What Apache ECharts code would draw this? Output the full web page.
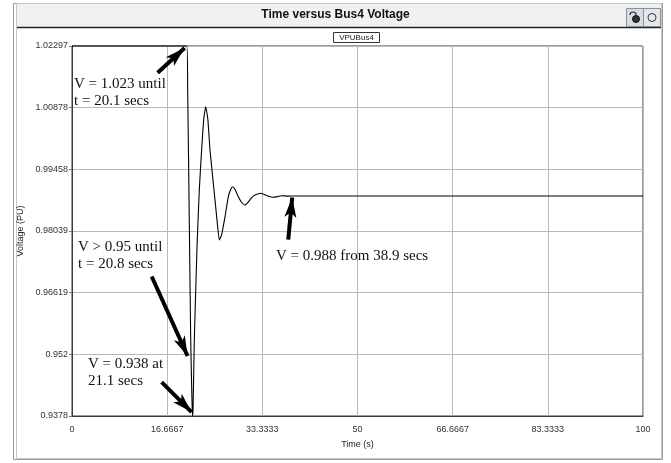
<!DOCTYPE html>
<html>
<head>
<meta charset="utf-8">
<script src="https://cdn.jsdelivr.net/npm/echarts@6/dist/echarts.min.js"></script>
<style>
html,body{margin:0;padding:0;background:#fff;}
#chart{width:671px;height:463px;}
</style>
</head>
<body>
<div id="chart"></div>
<script>
// ---- data ----
const chartTitle = 'Time versus Bus4 Voltage';
const seriesName = 'VPUBus4';
const timeS = [0, 20.1, 20.26, 20.54, 20.79, 21.0, 21.1, 21.2, 21.42, 21.9, 22.3, 22.7, 23.1, 23.42, 23.8, 24.17, 24.87, 25.45, 25.8, 26.2, 26.8, 27.38, 27.8, 28.14, 28.6, 29.13, 29.7, 30.3, 30.9, 31.5, 32.05, 33.1, 34.2, 35.26, 36.0, 36.72, 37.8, 38.9, 100];
const voltPU = [1.02297, 1.02297, 1.0128, 0.9829, 0.9553, 0.9420, 0.9378, 0.9395, 0.9553, 0.9770, 0.9900, 0.9990, 1.0065, 1.0090, 1.0060, 0.9990, 0.9898, 0.9822, 0.9783, 0.9795, 0.9837, 0.9883, 0.9900, 0.99058, 0.9898, 0.98828, 0.9870, 0.98637, 0.9871, 0.9881, 0.98867, 0.98906, 0.9885, 0.98814, 0.9883, 0.98851, 0.98842, 0.98844, 0.98844];
const xTickLabels = ['0', '16.6667', '33.3333', '50', '66.6667', '83.3333', '100'];
const yTickLabels = ['0.9378', '0.952', '0.96619', '0.98039', '0.99458', '1.00878', '1.02297'];
const xMin = 0, xMax = 100;
const yMin = 0.9378, yMax = 1.02297;
// annotation arrows: [startT, startV, endT, endV]
const arrowStarts = [[15.0, 1.0168], [13.96, 0.9699], [15.7, 0.9456], [37.87, 0.9784]];
const arrowEnds   = [[19.72, 1.0225], [20.24, 0.9516], [20.94, 0.9387], [38.57, 0.9881]];
const noteTexts = ['V = 1.023 until\nt = 20.1 secs', 'V > 0.95 until\nt = 20.8 secs', 'V = 0.938 at\n21.1 secs', 'V = 0.988 from 38.9 secs'];

const xInterval = (xMax - xMin) / 6;
const yInterval = (yMax - yMin) / 6;

const chart = echarts.init(document.getElementById('chart'), null, {renderer: 'canvas'});
const sans = '"Liberation Sans", Arial, sans-serif';
const serif = '"Liberation Serif", "Times New Roman", serif';

const lineData = timeS.map((t, i) => [t, voltPU[i]]);
const arrowData = arrowStarts.map((s, i) => [{coord: s}, {coord: arrowEnds[i]}]);

const option = {
  animation: false,
  backgroundColor: '#fff',
  grid: {left: 72, right: 28, top: 46, bottom: 47, show: true, borderColor: '#3a3a3a', borderWidth: 1, containLabel: false},
  xAxis: {
    type: 'value', min: xMin, max: xMax, interval: xInterval,
    name: 'Time (s)', nameLocation: 'middle', nameGap: 24,
    nameTextStyle: {fontFamily: sans, fontSize: 9, color: '#222'},
    axisLine: {show: true, lineStyle: {color: '#3a3a3a'}},
    axisTick: {show: false},
    axisLabel: {fontFamily: sans, fontSize: 9, color: '#333', margin: 9,
      formatter: v => xTickLabels[Math.round((v - xMin) / xInterval)] || ''},
    splitLine: {show: true, lineStyle: {color: '#b8b8b8', width: 1}}
  },
  yAxis: {
    type: 'value', min: yMin, max: yMax, interval: yInterval,
    name: 'Voltage (PU)', nameLocation: 'middle', nameGap: 46, nameRotate: 90,
    nameTextStyle: {fontFamily: sans, fontSize: 9, color: '#222'},
    axisLine: {show: true, lineStyle: {color: '#3a3a3a'}},
    axisTick: {show: true, length: 3, lineStyle: {color: '#777'}},
    axisLabel: {fontFamily: sans, fontSize: 9, color: '#333', margin: 4,
      formatter: v => yTickLabels[Math.round((v - yMin) / yInterval)] || ''},
    splitLine: {show: true, lineStyle: {color: '#b8b8b8', width: 1}}
  },
  series: [{
    name: seriesName, type: 'line', data: lineData, showSymbol: false, smooth: 0.15,
    lineStyle: {color: '#000', width: 1.1}, clip: false,
    markLine: {
      silent: true, symbol: ['none', 'arrow'], symbolSize: [9, 20],
      label: {show: false},
      lineStyle: {color: '#000', width: 4, type: 'solid'},
      data: arrowData
    }
  }],
  graphic: [
    // outer panel frame
    {type: 'rect', shape: {x: 13.5, y: 3.5, width: 649, height: 456}, style: {fill: 'none', stroke: '#9a9a9a', lineWidth: 1}, z: 0},
    {type: 'rect', shape: {x: 16.5, y: 3.5, width: 645, height: 455}, style: {fill: 'none', stroke: '#c8c8c8', lineWidth: 1}, z: 0},
    // title bar
    {type: 'rect', shape: {x: 17, y: 4, width: 644, height: 23}, style: {fill: '#f1f1f1'}, z: 1},
    {type: 'line', shape: {x1: 17, y1: 27.5, x2: 661, y2: 27.5}, style: {stroke: '#222', lineWidth: 1.5}, z: 2},
    {type: 'text', left: 'center', top: 9, style: {text: chartTitle, font: 'bold 12px ' + sans, fill: '#111'}, z: 3},
    // icon buttons
    {type: 'rect', shape: {x: 626.5, y: 8.5, width: 17, height: 18}, style: {fill: '#d8dde3', stroke: '#8a9098', lineWidth: 1}, z: 3},
    {type: 'rect', shape: {x: 643.5, y: 8.5, width: 17, height: 18}, style: {fill: '#e4e8ec', stroke: '#8a9098', lineWidth: 1}, z: 3},
    {type: 'circle', shape: {cx: 636, cy: 19, r: 3.5}, style: {fill: '#333', stroke: '#111'}, z: 4},
    {type: 'arc', shape: {cx: 633, cy: 15, r: 3, startAngle: Math.PI, endAngle: 2 * Math.PI}, style: {stroke: '#222', fill: 'none', lineWidth: 1.2}, z: 4},
    {type: 'circle', shape: {cx: 652, cy: 17.5, r: 4}, style: {fill: 'none', stroke: '#333', lineWidth: 1}, z: 4},
    // legend box
    {type: 'rect', shape: {x: 333.5, y: 32.5, width: 46, height: 10}, style: {fill: '#fff', stroke: '#333', lineWidth: 1}, z: 3},
    {type: 'text', x: 356.5, y: 37.5, style: {text: seriesName, font: '8px ' + sans, fill: '#222', align: 'center', verticalAlign: 'middle'}, z: 4},
    // annotation texts
    {type: 'text', x: 74, y: 76, style: {text: noteTexts[0], font: '15px ' + serif, fill: '#111', lineHeight: 17}, z: 5},
    {type: 'text', x: 78, y: 239, style: {text: noteTexts[1], font: '15px ' + serif, fill: '#111', lineHeight: 17}, z: 5},
    {type: 'text', x: 88, y: 356, style: {text: noteTexts[2], font: '15px ' + serif, fill: '#111', lineHeight: 17}, z: 5},
    {type: 'text', x: 276, y: 248, style: {text: noteTexts[3], font: '15px ' + serif, fill: '#111', lineHeight: 17}, z: 5}
  ]
};
chart.setOption(option);
</script>
</body>
</html>
